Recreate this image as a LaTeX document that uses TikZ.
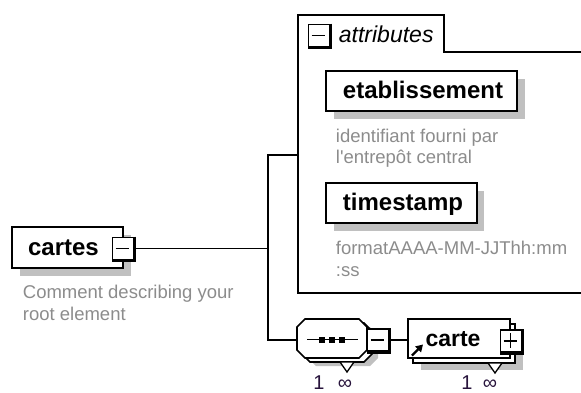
\documentclass[tikz,border=0pt]{standalone}
\usepackage{fontspec}
\setmainfont{Liberation Sans}
\usetikzlibrary{calc,arrows.meta}
\definecolor{shadowc}{RGB}{192,192,192}
\definecolor{cmtc}{RGB}{140,140,140}
\definecolor{occc}{RGB}{40,20,60}
\begin{document}
\begin{tikzpicture}[x=1pt,y=-1pt, line width=1.8pt,
 box/.style={draw, fill=white, inner sep=0pt, line width=1.8pt},
 lbl/.style={font=\fontsize{24}{28}\selectfont\bfseries, anchor=base, inner sep=0pt},
 cmt/.style={font=\fontsize{18.5}{22}\selectfont, text=cmtc, anchor=base west, inner sep=0pt},
 icon/.style={draw, fill=white, inner sep=0pt, minimum width=21pt, minimum height=22pt, line width=1.6pt},
 thickedge/.style={line width=3.5pt},
 occ/.style={font=\fontsize{20}{22}\selectfont, text=occc, anchor=base, inner sep=0pt},
 conn/.style={line width=1.8pt},
 octa/.pic={\path[pic actions] (8,0) -- (62,0) -- (70,8) -- (70,31) -- (62,39) -- (8,39) -- (0,31) -- (0,8) -- cycle;}]
\useasboundingbox (0,0) rectangle (581,392);

% attributes container
\coordinate (attrW) at (298,155);
\draw[conn] (583,52) -- (444,52) -- (444,15) -- (298,15) -- (298,293) -- (583,293);
\node[icon] (ai) at (319,35.5) {};
\draw[thickedge] (ai.north east) -- (ai.south east) -- (ai.south west);
\draw[line width=1.8pt] ($(ai.west)+(4,0)$) -- ($(ai.east)+(-5,0)$);
\node[anchor=base west, font=\fontsize{23}{26}\selectfont\itshape, inner sep=0pt] (attrlbl) at (338,42) {attributes};

% etablissement
\fill[shadowc] (334,79) rectangle (525,119);
\node[box, minimum width=191pt, minimum height=40pt] (etab) at (421.5,91) {};
\node[lbl] (etabt) at (423,98) {etablissement};
\node[cmt] (etabc1) at (335,142) {identifiant fourni par};
\node[cmt] (etabc2) at (335,163) {l\textquotesingle entrepôt central};

% timestamp
\fill[shadowc] (334,191) rectangle (484,231);
\node[box, minimum width=151pt, minimum height=40pt] (ts) at (401.5,203) {};
\node[lbl] (tst) at (403,210) {timestamp};
\node[cmt] (tsc1) at (335,254) {formatAAAA-MM-JJThh:mm};
\node[cmt] (tsc2) at (335,276) {:ss};

% cartes
\fill[shadowc] (20,235) rectangle (131,276);
\node[box, minimum width=111pt, minimum height=41pt] (cartes) at (67.5,247.5) {};
\node[lbl] (cartest) at (63.5,255) {cartes};
\node[icon] (ci) at (123,248.5) {};
\draw[thickedge] (ci.north east) -- (ci.south east) -- (ci.south west);
\draw[line width=1.8pt] ($(ci.west)+(4,0)$) -- ($(ci.east)+(-5,0)$);
\node[cmt] (cc1) at (22,298) {Comment describing your};
\node[cmt] (cc2) at (22,320) {root element};

% sequence compositor
\node[inner sep=0pt, minimum width=70pt, minimum height=39pt] (seq) at (332,338.5) {};
\pic[fill=shadowc] at (308,327) {octa};
\pic[draw, fill=white, line width=1.6pt] at (302,323) {octa};
\pic[draw, fill=white, line width=1.6pt] at (297,319) {octa};
\draw[fill=white, line width=1.3pt] (340,362) -- (354,362) -- (347,372) -- cycle;
\draw[line width=1.6pt] (307,339.5) -- (358,339.5);
\fill (319,336.5) rectangle +(6,6);
\fill (329,336.5) rectangle +(6,6);
\fill (339,336.5) rectangle +(6,6);
\node[icon] (si) at (378,340) {};
\draw[thickedge] (si.north east) -- (si.south east) -- (si.south west);
\draw[line width=1.8pt] ($(si.west)+(4,0)$) -- ($(si.east)+(-5,0)$);

% carte
\fill[shadowc] (421,332) rectangle (523,370);
\draw[fill=white, line width=1.6pt] (413,324) rectangle (515,363);
\node[box, minimum width=102pt, minimum height=39pt] (carte) at (459,338.5) {};
\draw[fill=white, line width=1.3pt] (488,363) -- (502,363) -- (495,373) -- cycle;
\node[lbl, font=\fontsize{23}{27}\selectfont\bfseries] (cartet) at (453,346) {carte};
\draw[-{Triangle[length=7pt,width=8pt]}, line width=2.4pt] (412,355.5) -- (423,344.5);
\node[icon] (pi) at (511,341) {};
\draw[thickedge] (pi.north east) -- (pi.south east) -- (pi.south west);
\draw[line width=1.8pt] ($(pi.west)+(4,0)$) -- ($(pi.east)+(-5,0)$);
\draw[line width=1.8pt] ($(pi.north)+(-0.5,4)$) -- ($(pi.south)+(-0.5,-5)$);

% connectors
\coordinate (jx) at (268,155);
\draw[conn] (ci.east) -- (ci.east -| jx);
\draw[conn] (attrW) -- (jx) -- (jx |- si.east) -- (seq.west |- si.east);
\draw[conn] (si.east) -- (si.east -| carte.west);

% occurrences
\node[occ] (o1a) at (319,389) {1};
\node[occ] (o1b) at (345,389) {∞};
\node[occ] (o2a) at (467,389) {1};
\node[occ] (o2b) at (490,389) {∞};
\end{tikzpicture}
\end{document}
